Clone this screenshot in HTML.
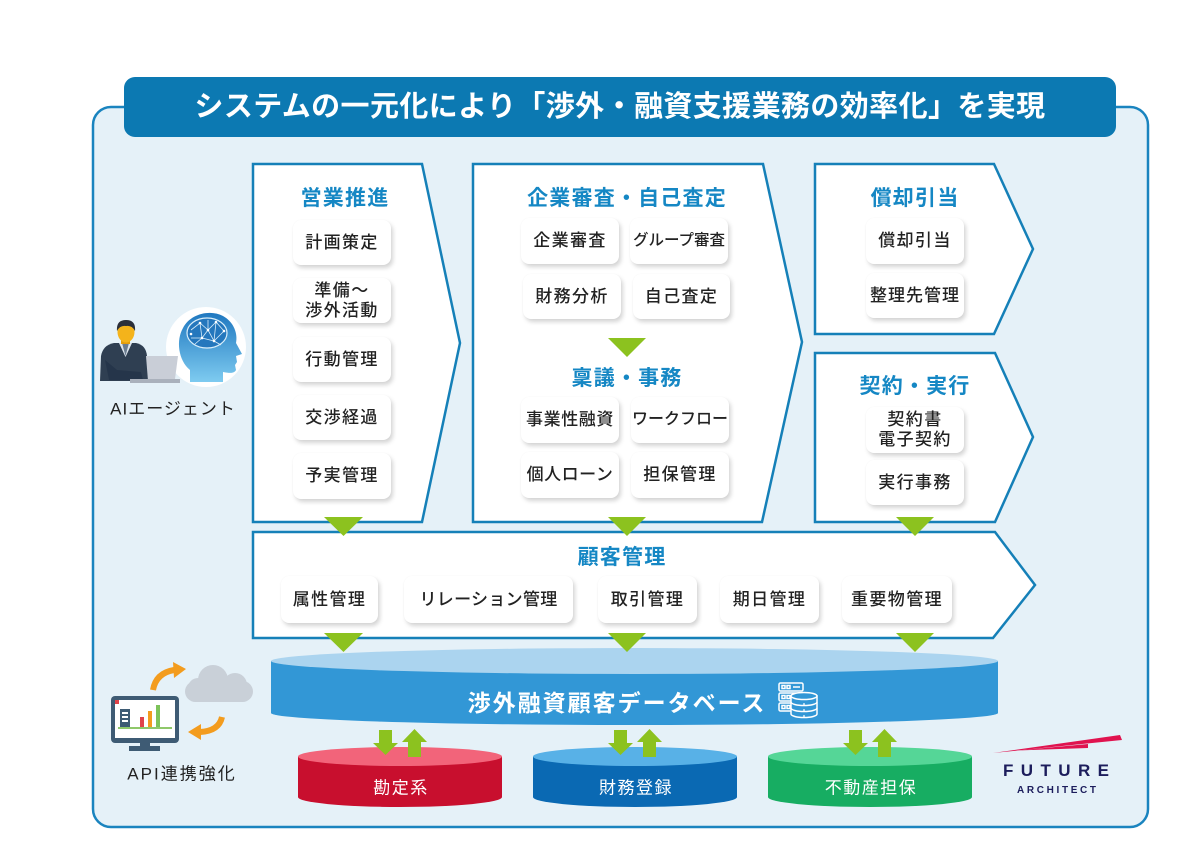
<!DOCTYPE html>
<html lang="ja">
<head>
<meta charset="utf-8">
<style>
  html,body{margin:0;padding:0;background:#fff;}
  body{width:1200px;height:861px;position:relative;overflow:hidden;
       font-family:"Liberation Sans","Noto Sans CJK JP",sans-serif;}
  svg{position:absolute;left:0;top:0;}
  .t{position:absolute;left:124px;top:77px;width:992px;height:60px;line-height:60px;
     text-align:center;color:#fff;font-weight:bold;font-size:29px;letter-spacing:0.4px;white-space:nowrap;}
  .b{position:absolute;background:#fff;border-radius:8px;
     box-shadow:2px 3px 4px rgba(0,0,0,0.17), 0 0 1px rgba(0,0,0,0.05);
     display:flex;align-items:center;justify-content:center;text-align:center;
     font-size:17px;font-weight:500;color:#222;letter-spacing:1.4px;line-height:20px;white-space:nowrap;}
  .h{position:absolute;transform:translate(-50%,-50%);font-weight:bold;color:#1587c4;
     font-size:21px;letter-spacing:1.2px;white-space:nowrap;}
  .lbl{position:absolute;transform:translate(-50%,-50%);white-space:nowrap;}
</style>
</head>
<body>
<svg width="1200" height="861" viewBox="0 0 1200 861">
  <defs>
    <linearGradient id="hg" x1="0" y1="0" x2="0" y2="1">
      <stop offset="0" stop-color="#1f78c0"/>
      <stop offset="1" stop-color="#7ecbf0"/>
    </linearGradient>
  </defs>
  <!-- outer container -->
  <rect x="93" y="107" width="1055" height="720" rx="18" fill="#e5f1f8" stroke="#1a84bf" stroke-width="2.5"/>
  <!-- title bar -->
  <rect x="124" y="77" width="992" height="60" rx="11" fill="#0c79b2"/>

  <!-- process boxes -->
  <g fill="#fff" stroke="#1580b8" stroke-width="2.5" stroke-linejoin="miter">
    <polygon points="253,164 422,164 460,343 422,522 253,522"/>
    <polygon points="473,164 763,164 802,342 762,522 473,522"/>
    <polygon points="815,164 994,164 1033,249 994,334 815,334"/>
    <polygon points="815,353 995,353 1033,437 995,522 815,522"/>
    <polygon points="253,532 995,532 1035,585 993,638 253,638"/>
  </g>

  <!-- database -->
  <path d="M271,661 L271,713 A363.5,12 0 0 0 998,713 L998,661 Z" fill="#3297d6"/>
  <ellipse cx="634.5" cy="661" rx="363.5" ry="13" fill="#abd4ef"/>

  <!-- green triangles -->
  <g fill="#8cc21f">
    <polygon points="324,517 363,517 343.5,536"/>
    <polygon points="608,517 646,517 627,536"/>
    <polygon points="896,517 934,517 915,536"/>
    <polygon points="608,338 646,338 627,357"/>
    <polygon points="324,633 363,633 343.5,652"/>
    <polygon points="608,633 646,633 627,652"/>
    <polygon points="896,633 934,633 915,652"/>
  </g>

  <!-- DB icon -->
  <g fill="none" stroke="#fff" stroke-width="1.5">
    <rect x="779" y="683" width="24" height="8" rx="1.5"/>
    <rect x="779" y="693" width="24" height="8" rx="1.5"/>
    <rect x="779" y="703" width="24" height="8" rx="1.5"/>
    <rect x="782" y="685.5" width="3" height="3"/><rect x="787" y="685.5" width="3" height="3"/>
    <rect x="782" y="695.5" width="3" height="3"/><rect x="787" y="695.5" width="3" height="3"/>
    <rect x="782" y="705.5" width="3" height="3"/><rect x="787" y="705.5" width="3" height="3"/>
    <line x1="793" y1="687" x2="800" y2="687"/>
  </g>
  <path d="M791,696 L791,714 A13,3.5 0 0 0 817,714 L817,696 Z" fill="#3297d6" stroke="#fff" stroke-width="1.5"/>
  <ellipse cx="804" cy="696" rx="13" ry="3.5" fill="#3297d6" stroke="#fff" stroke-width="1.5"/>
  <g fill="none" stroke="#fff" stroke-width="1.5">
    <path d="M791,702 A13,3.5 0 0 0 817,702"/>
    <path d="M791,708 A13,3.5 0 0 0 817,708"/>
  </g>
  <g fill="#fff"><circle cx="804" cy="704" r="0.9"/><circle cx="804" cy="710" r="0.9"/><circle cx="804" cy="716" r="0.9"/></g>

  <!-- small cylinders -->
  <path d="M298,756.5 L298,797 A102,10 0 0 0 502,797 L502,756.5 Z" fill="#c80f2e"/>
  <ellipse cx="400" cy="756.5" rx="102" ry="9.5" fill="#f2647a"/>
  <path d="M533,756.5 L533,797 A102,10 0 0 0 737,797 L737,756.5 Z" fill="#0a69b3"/>
  <ellipse cx="635" cy="756.5" rx="102" ry="9.5" fill="#58b1e7"/>
  <path d="M768,756.5 L768,797 A102,10 0 0 0 972,797 L972,756.5 Z" fill="#17ad62"/>
  <ellipse cx="870" cy="756.5" rx="102" ry="9.5" fill="#55d697"/>

  <!-- up/down arrows -->
  <g fill="#8cc21f">
    <polygon points="379,730 392,730 392,743 398,743 385.5,755 373,743 379,743"/>
    <polygon points="414.5,729 427,742 421,742 421,757 408,757 408,742 402,742"/>
    <polygon points="614,730 627,730 627,743 633,743 620.5,755 608,743 614,743"/>
    <polygon points="649.5,729 662,742 656,742 656,757 643,757 643,742 637,742"/>
    <polygon points="849,730 862,730 862,743 868,743 855.5,755 843,743 849,743"/>
    <polygon points="884.5,729 897,742 891,742 891,757 878,757 878,742 872,742"/>
  </g>

  <!-- AI head (circle first) -->
  <circle cx="206" cy="347" r="40" fill="#fff"/>
  <path d="M190,382 L190,370 C178,360 176,340 183,328 C190,314 210,309 223,316 C234,322 238,334 236,343 L242,354 L236,356 L237,362 L235,365 L236,370 C234,374 229,373 223,372 L223,382 Z" fill="url(#hg)"/>
  <ellipse cx="207" cy="333" rx="20" ry="15" fill="#2477bd" stroke="#d9eefa" stroke-width="1.2"/>
  <g stroke="#d9eefa" stroke-width="0.8" fill="none">
    <path d="M191,330 L200,323 L208,330 L216,322 L224,331 M200,323 L202,338 L208,330 L214,341 L224,331 M191,338 L202,338 L214,341 L221,345 M195,344 L202,338 M208,320 L208,330 M214,341 L216,322"/>
  </g>
  <g fill="#fff">
    <circle cx="200" cy="323" r="1.3"/><circle cx="208" cy="330" r="1.3"/><circle cx="216" cy="322" r="1.3"/>
    <circle cx="202" cy="338" r="1.3"/><circle cx="214" cy="341" r="1.3"/><circle cx="224" cy="331" r="1.3"/>
    <circle cx="191" cy="334" r="1.3"/>
  </g>

  <!-- AI agent: person (drawn over circle) -->
  <path d="M100,381 L101,356 Q103,345 114,343 L136,343 Q146,345 147,356 L149,381 Z" fill="#2f3f52"/>
  <polygon points="119,343 132,343 125.5,357" fill="#dfe6ee"/>
  <polygon points="122,343 129,343 125.5,356" fill="#6b7d90"/>
  <rect x="121" y="336" width="9" height="8" fill="#e39d0c"/>
  <ellipse cx="126" cy="332" rx="8.5" ry="10.5" fill="#f4b31b"/>
  <path d="M117,331 Q116,320 126,320 Q136,320 135,331 Q132,325 126,326 Q120,325 117,331 Z" fill="#2b2f3a"/>
  <path d="M105,360 L109,380 L143,380 L141,372 L117,370 Z" fill="#25354a"/>
  <polygon points="146,356 178,356 175,379 148,381" fill="#c9ced7"/>
  <rect x="130" y="379" width="50" height="4" fill="#aab1bc"/>

  <!-- API: cloud -->
  <g fill="#c9d0d8">
    <rect x="185" y="681" width="68" height="21" rx="10.5"/>
    <circle cx="213" cy="680" r="15"/>
    <circle cx="235" cy="685" r="12"/>
    <circle cx="198" cy="688" r="10"/>
  </g>
  <!-- monitor -->
  <rect x="140" y="742" width="10" height="5" fill="#3e5b74"/>
  <rect x="129" y="746" width="31" height="5" fill="#3e5b74"/>
  <rect x="111" y="696" width="68" height="47" rx="4" fill="#3e5b74"/>
  <rect x="115" y="700" width="60" height="38" fill="#fff"/>
  <rect x="115" y="700" width="4" height="4" fill="#e0434a"/>
  <rect x="120" y="709" width="10" height="18" fill="#3e5b74"/>
  <g fill="#fff"><rect x="122" y="712" width="6" height="2"/><rect x="122" y="716" width="6" height="2"/><rect x="122" y="720" width="6" height="2"/></g>
  <rect x="140" y="717" width="4" height="10" fill="#e0434a"/>
  <rect x="148" y="711" width="4" height="16" fill="#f39c1e"/>
  <rect x="156" y="705" width="4" height="22" fill="#7dc35a"/>
  <rect x="118" y="727" width="54" height="2" fill="#8fc86a"/>
  <!-- orange arrows -->
  <g fill="none" stroke="#f39c1e" stroke-width="6" stroke-linecap="butt">
    <path d="M153,690 Q156,673 174,670"/>
    <path d="M222,717 Q219,731 200,732"/>
  </g>
  <g fill="#f39c1e">
    <polygon points="173,662 186,669 174,678"/>
    <polygon points="201,724 188,732 201,740"/>
  </g>

  <!-- logo -->
  <polygon points="993,753 1120,735 1122,740" fill="#e0134f"/>
  <polygon points="1017,750.5 1088,744 1088,748" fill="#e0134f"/>
  <text x="1003" y="776" font-family="Liberation Sans, sans-serif" font-weight="bold" font-size="17" fill="#1c1d5c" textLength="106" lengthAdjust="spacing">FUTURE</text>
  <text x="1017" y="793" font-family="Liberation Sans, sans-serif" font-weight="bold" font-size="10" fill="#1c1d5c" textLength="79" lengthAdjust="spacing">ARCHITECT</text>
</svg>

<div class="t">システムの一元化により「渉外・融資支援業務の効率化」を実現</div>

<!-- headings -->
<div class="h" style="left:345px;top:197px;">営業推進</div>
<div class="h" style="left:627px;top:197px;">企業審査・自己査定</div>
<div class="h" style="left:627px;top:377px;">稟議・事務</div>
<div class="h" style="left:915px;top:197px;">償却引当</div>
<div class="h" style="left:915px;top:385px;">契約・実行</div>
<div class="h" style="left:622px;top:556px;">顧客管理</div>

<!-- 営業推進 -->
<div class="b" style="left:293px;top:220px;width:98px;height:45px;">計画策定</div>
<div class="b" style="left:293px;top:278px;width:98px;height:45px;">準備～<br>渉外活動</div>
<div class="b" style="left:293px;top:337px;width:98px;height:45px;">行動管理</div>
<div class="b" style="left:293px;top:395px;width:98px;height:45px;">交渉経過</div>
<div class="b" style="left:293px;top:453px;width:98px;height:46px;">予実管理</div>

<!-- 企業審査 -->
<div class="b" style="left:521px;top:218px;width:98px;height:46px;">企業審査</div>
<div class="b" style="left:630px;top:218px;width:98px;height:46px;font-size:15.5px;letter-spacing:0;">グループ審査</div>
<div class="b" style="left:523px;top:274px;width:98px;height:45px;">財務分析</div>
<div class="b" style="left:633px;top:274px;width:97px;height:45px;">自己査定</div>
<div class="b" style="left:521px;top:397px;width:98px;height:46px;letter-spacing:0.6px;">事業性融資</div>
<div class="b" style="left:631px;top:397px;width:98px;height:46px;font-size:16px;letter-spacing:0;">ワークフロー</div>
<div class="b" style="left:521px;top:452px;width:98px;height:46px;letter-spacing:0.5px;">個人ローン</div>
<div class="b" style="left:631px;top:452px;width:98px;height:46px;">担保管理</div>

<!-- 右列 -->
<div class="b" style="left:866px;top:218px;width:98px;height:46px;">償却引当</div>
<div class="b" style="left:866px;top:273px;width:98px;height:45px;letter-spacing:1px;">整理先管理</div>
<div class="b" style="left:866px;top:407px;width:98px;height:46px;">契約書<br>電子契約</div>
<div class="b" style="left:866px;top:460px;width:98px;height:45px;">実行事務</div>

<!-- 顧客管理 -->
<div class="b" style="left:281px;top:576px;width:97px;height:47px;">属性管理</div>
<div class="b" style="left:404px;top:576px;width:169px;height:47px;letter-spacing:0.3px;">リレーション管理</div>
<div class="b" style="left:598px;top:576px;width:99px;height:47px;">取引管理</div>
<div class="b" style="left:720px;top:576px;width:99px;height:47px;">期日管理</div>
<div class="b" style="left:842px;top:576px;width:110px;height:47px;">重要物管理</div>

<!-- DB label -->
<div class="lbl" style="left:617px;top:701px;color:#fff;font-weight:bold;font-size:23px;letter-spacing:2px;">渉外融資顧客データベース</div>

<!-- cylinder labels -->
<div class="lbl" style="left:401px;top:786px;color:#fff;font-size:17px;letter-spacing:1.5px;">勘定系</div>
<div class="lbl" style="left:636px;top:786px;color:#fff;font-size:17px;letter-spacing:1.5px;">財務登録</div>
<div class="lbl" style="left:871px;top:786px;color:#fff;font-size:17px;letter-spacing:1.5px;">不動産担保</div>

<!-- side labels -->
<div class="lbl" style="left:173px;top:407px;color:#222;font-size:17px;letter-spacing:1px;">AIエージェント</div>
<div class="lbl" style="left:182px;top:772px;color:#222;font-size:17px;letter-spacing:2px;">API連携強化</div>
</body>
</html>
